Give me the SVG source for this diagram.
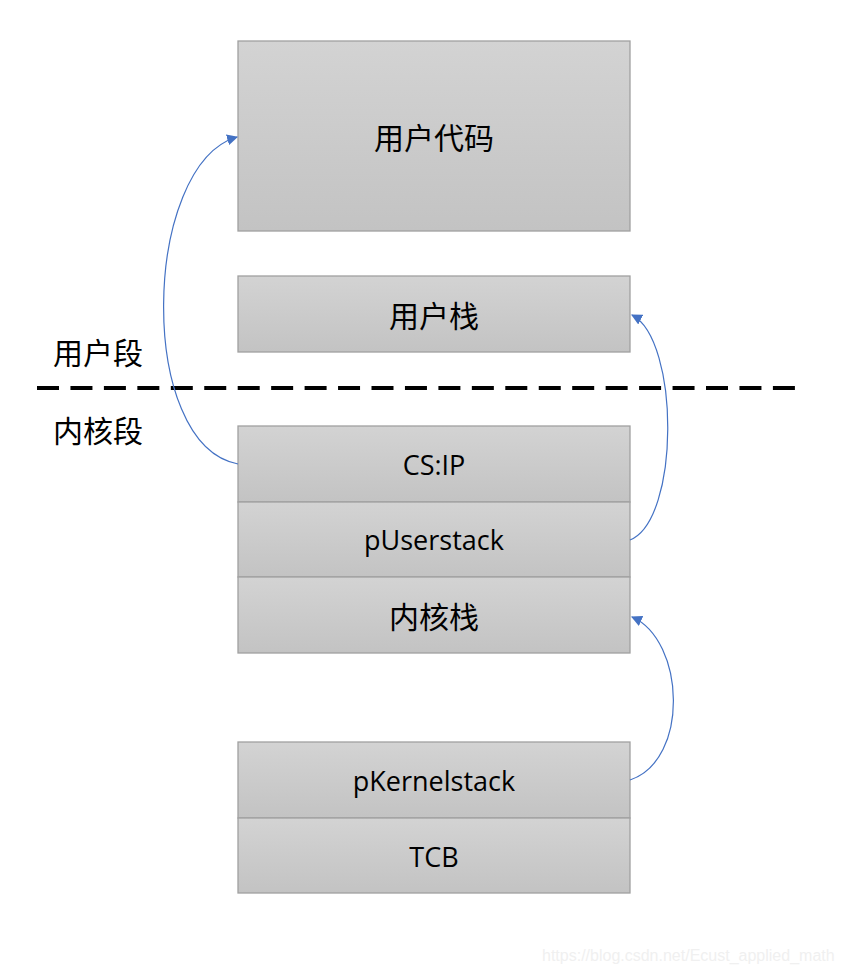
<svg xmlns="http://www.w3.org/2000/svg" width="841" height="967" viewBox="0 0 841 967">
<style>
.box{stroke:#a0a0a0;stroke-width:1.3;fill:url(#g)}
.t{font-family:"Open Sans","Noto Sans CJK SC",sans-serif;font-size:27px;fill:#000;text-anchor:middle;dominant-baseline:central}
.c{font-family:"Noto Sans CJK SC",sans-serif;font-size:30px;fill:#000;text-anchor:middle;dominant-baseline:central}
.lbl{font-family:"Noto Sans CJK SC",sans-serif;font-size:30px;fill:#000;dominant-baseline:central}
.con{fill:none;stroke:#4472c4;stroke-width:1.2;marker-end:url(#a)}
</style>
<defs>
<linearGradient id="g" x1="0" y1="0" x2="0" y2="1">
<stop offset="0" stop-color="#d3d3d3"/><stop offset="1" stop-color="#c3c3c3"/>
</linearGradient>
<marker id="a" viewBox="0 0 10 10" refX="9" refY="5" markerWidth="11" markerHeight="11" markerUnits="userSpaceOnUse" orient="auto">
<path d="M0,0 L10,5 L0,10 z" fill="#4472c4"/>
</marker>
</defs>
<rect width="841" height="967" fill="#fff"/>
<g id="usercode"><rect class="box" x="238" y="41" width="392" height="190"/><text class="c" x="434" y="136">用户代码</text></g>
<g id="userstack"><rect class="box" x="238" y="276" width="392" height="76"/><text class="c" x="434" y="314">用户栈</text></g>
<g id="csip"><rect class="box" x="238" y="426" width="392" height="76"/><text class="t" x="434" y="464">CS:IP</text></g>
<g id="puserstack"><rect class="box" x="238" y="502" width="392" height="75"/><text class="t" x="434" y="539">pUserstack</text></g>
<g id="kernelstack"><rect class="box" x="238" y="577" width="392" height="76"/><text class="c" x="434" y="615">内核栈</text></g>
<g id="pkernelstack"><rect class="box" x="238" y="742" width="392" height="76"/><text class="t" x="434" y="780">pKernelstack</text></g>
<g id="tcb"><rect class="box" x="238" y="818" width="392" height="75"/><text class="t" x="434" y="856">TCB</text></g>
<g id="divider">
<line x1="37" y1="388" x2="795" y2="388" stroke="#000" stroke-width="4" stroke-dasharray="22,11.45"/>
<text class="lbl" x="53" y="351">用户段</text>
<text class="lbl" x="53" y="429">内核段</text>
</g>
<g id="connectors">
<path class="con" d="M238,464 C136,445 142,165 237,137"/>
<path class="con" d="M630,540 C680,520 680,340 632,315"/>
<path class="con" d="M630,780 C690,760 685,640 632,617"/>
</g>
<text x="542" y="955" font-family="Liberation Sans,sans-serif" font-size="16" fill="#f0f0f0" dominant-baseline="central">https://blog.csdn.net/Ecust_applied_math</text>
</svg>
